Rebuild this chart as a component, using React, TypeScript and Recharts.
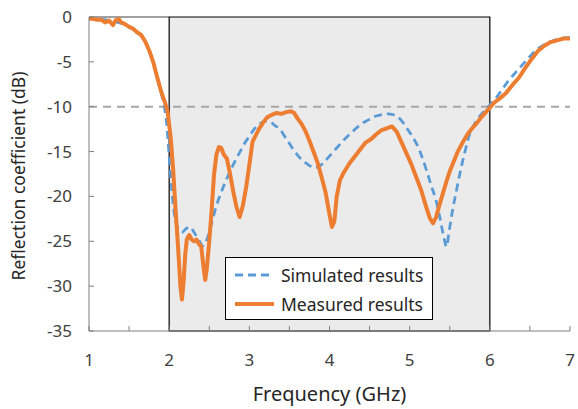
import {
  LineChart,
  Line,
  XAxis,
  YAxis,
  ReferenceLine,
  ReferenceArea,
} from 'recharts';

// measured (orange)
const measFreq = [
  1.0, 1.05, 1.1, 1.15, 1.2, 1.25, 1.3, 1.33, 1.37, 1.4, 1.45, 1.5, 1.55, 1.6, 1.65, 1.7, 1.75, 1.8, 1.85, 1.9,
  1.95, 1.98, 2.02, 2.05, 2.08, 2.11, 2.14, 2.16, 2.18, 2.2, 2.22, 2.25, 2.28, 2.31, 2.34, 2.37, 2.4, 2.43, 2.45,
  2.47, 2.5, 2.53, 2.56, 2.59, 2.62, 2.65, 2.68, 2.72, 2.76, 2.8, 2.84, 2.88, 2.92, 2.96, 3.0, 3.04, 3.08, 3.12,
  3.17, 3.22, 3.28, 3.34, 3.4, 3.46, 3.52, 3.56, 3.6, 3.65, 3.7, 3.75, 3.8, 3.85, 3.9, 3.95, 4.0, 4.03, 4.06,
  4.09, 4.13, 4.18, 4.25, 4.32, 4.38, 4.45, 4.52, 4.58, 4.65, 4.72, 4.78, 4.84, 4.9, 4.96, 5.02, 5.08, 5.14,
  5.2, 5.25, 5.29, 5.33, 5.37, 5.41, 5.46, 5.5, 5.55, 5.6, 5.66, 5.72, 5.78, 5.84, 5.9, 5.95, 6.0, 6.06, 6.12,
  6.2, 6.28, 6.36, 6.44, 6.52, 6.6, 6.68, 6.76, 6.84, 6.92, 7.0,
];
const measured = [
  -0.2, -0.2, -0.3, -0.3, -0.6, -0.4, -0.9, -0.4, -0.2, -0.6, -0.8, -1.1, -1.3, -1.7, -2.0, -2.7, -3.7, -5.0, -6.7,
  -8.3, -9.6, -10.5, -13.5, -17.0, -21.5, -25.5, -30.0, -31.5, -29.5, -26.5, -24.8, -24.3, -24.8, -25.0, -24.8,
  -25.3, -25.6, -28.0, -29.3, -28.0, -25.0, -21.5, -17.5, -15.3, -14.5, -14.6, -15.3, -15.8, -17.5, -19.5, -21.2,
  -22.3, -21.0, -19.0, -16.5, -13.9, -13.2, -12.5, -11.8, -11.2, -10.9, -10.7, -10.8, -10.6, -10.5, -10.7, -11.3,
  -11.9, -12.7, -13.8, -15.0, -16.2, -17.8, -19.5, -22.0, -23.4, -22.8, -20.0, -18.2, -17.3, -16.3, -15.5, -14.8,
  -14.0, -13.6, -13.1, -12.6, -12.4, -12.2, -12.8, -14.0, -15.2, -16.4, -17.8, -19.2, -21.0, -22.4, -23.0, -22.3,
  -21.0, -19.8, -18.3, -17.2, -16.1, -15.0, -14.0, -13.1, -12.4, -11.8, -11.1, -10.6, -10.1, -9.5, -9.1, -8.5,
  -7.6, -6.8, -5.7, -4.7, -3.8, -3.2, -2.8, -2.6, -2.4, -2.4,
];

// simulated (blue dashed)
const simFreq = [
  1.0, 1.1, 1.2, 1.3, 1.4, 1.5, 1.6, 1.7, 1.75, 1.8, 1.85, 1.9, 1.94, 1.97, 2.0, 2.03, 2.07, 2.11, 2.16, 2.21,
  2.26, 2.31, 2.36, 2.42, 2.47, 2.53, 2.58, 2.63, 2.7, 2.76, 2.82, 2.88, 2.94, 3.0, 3.06, 3.13, 3.2, 3.26, 3.32,
  3.38, 3.44, 3.5, 3.56, 3.62, 3.68, 3.74, 3.8, 3.86, 3.92, 3.98, 4.05, 4.12, 4.18, 4.25, 4.32, 4.4, 4.48, 4.56,
  4.64, 4.72, 4.8, 4.86, 4.92, 4.98, 5.04, 5.09, 5.15, 5.21, 5.27, 5.33, 5.38, 5.43, 5.46, 5.49, 5.53, 5.58,
  5.63, 5.69, 5.75, 5.81, 5.88, 5.94, 6.0, 6.08, 6.16, 6.24, 6.32, 6.4, 6.48, 6.56, 6.64, 6.72, 6.8, 6.88, 6.96,
  7.0,
];
const simulated = [
  -0.1, -0.2, -0.3, -0.5, -0.7, -1.1, -1.7, -2.7, -3.7, -5.0, -6.8, -8.5, -10.0, -12.0, -15.5, -19.0, -22.3,
  -23.6, -24.0, -23.6, -23.4, -24.0, -24.7, -25.5, -24.8, -23.0, -21.3, -20.0, -18.4, -17.2, -16.1, -15.1, -14.1,
  -13.3, -12.5, -11.9, -11.6, -11.7, -12.1, -12.5, -13.3, -14.1, -14.9, -15.6, -16.1, -16.5, -16.8, -16.7, -16.3,
  -15.7, -15.0, -14.3, -13.7, -13.1, -12.5, -11.9, -11.5, -11.1, -10.9, -10.8, -10.9, -11.2, -11.8, -12.6, -13.4,
  -14.2, -15.5, -17.1, -18.8, -20.5, -22.5, -24.7, -25.6, -24.0, -21.8, -19.5, -17.3, -15.0, -13.0, -11.9, -11.0,
  -10.4, -9.8, -9.0, -8.0, -7.0, -6.2, -5.4, -4.6, -3.8, -3.3, -2.9, -2.6, -2.4, -2.3, -2.3,
];

const xTicks = [1, 1.5, 2, 2.5, 3, 3.5, 4, 4.5, 5, 5.5, 6, 6.5, 7];
const yTicks = [0, -5, -10, -15, -20, -25, -30, -35];

const measData = measFreq.map((f, i) => ({ f, v: measured[i] }));
const simData = simFreq.map((f, i) => ({ f, v: simulated[i] }));

const FONT = '"Noto Sans", sans-serif';
const BLUE = '#5b9bd5';
const ORANGE = '#ed7d31';

const XTick = ({ x, y, payload }: any) => (
  <g>
    <line x1={x} y1={y} x2={x} y2={y - 5} stroke="#7f7f7f" />
    {Number.isInteger(payload.value) && (
      <text x={x} y={y + 35} textAnchor="middle" fontSize={17} fill="#404040" fontFamily={FONT}>
        {payload.value}
      </text>
    )}
  </g>
);

const YTick = ({ x, y, payload }: any) => (
  <g>
    <line x1={x} y1={y} x2={x + 5} y2={y} stroke="#7f7f7f" />
    <text x={x - 17} y={y} dy="0.35em" textAnchor="end" fontSize={17} fill="#404040" fontFamily={FONT}>
      {payload.value}
    </text>
  </g>
);

const YTitle = () => {
  const cx = 18;
  const cy = 176;
  return (
    <text
      x={cx}
      y={cy}
      transform={`rotate(-90 ${cx} ${cy})`}
      textAnchor="middle"
      dominantBaseline="central"
      fontSize={17.5}
      fill="#262626"
      fontFamily={FONT}
    >
      Reflection coefficient (dB)
    </text>
  );
};

const LegendBox = () => (
  <div
    style={{
      position: 'absolute',
      left: 225,
      top: 257,
      width: 208,
      height: 63,
      background: '#fff',
      border: '1px solid #000',
      fontFamily: FONT,
      fontSize: 17.5,
      color: '#262626',
      boxSizing: 'border-box',
      padding: '2px 0 0 9px',
    }}
  >
    <div style={{ display: 'flex', alignItems: 'center', height: 29 }}>
      <svg width={39} height={6}>
        <line x1={0} y1={3} x2={39} y2={3} stroke={BLUE} strokeWidth={3} strokeDasharray="8 5" />
      </svg>
      <span style={{ marginLeft: 7 }}>Simulated results</span>
    </div>
    <div style={{ display: 'flex', alignItems: 'center', height: 29 }}>
      <svg width={39} height={6}>
        <line x1={0} y1={3} x2={39} y2={3} stroke={ORANGE} strokeWidth={4} />
      </svg>
      <span style={{ marginLeft: 7 }}>Measured results</span>
    </div>
  </div>
);

export default function App() {
  return (
    <div style={{ position: 'absolute', left: 0, top: 0, width: 578, height: 409, background: '#fff' }}>
      <LineChart width={578} height={409} margin={{ top: 17, right: 8, bottom: 0, left: 0 }}>
        <ReferenceArea
          x1={2}
          x2={6}
          y1={-35}
          y2={0}
          fill="#ebebeb"
          fillOpacity={1}
          stroke="#000"
          strokeWidth={1.2}
        />
        <ReferenceLine
          segment={[
            { x: 1, y: 0 },
            { x: 2, y: 0 },
          ]}
          stroke="#404040"
          strokeWidth={1}
        />
        <ReferenceLine y={-10} stroke="#a6a6a6" strokeWidth={2} strokeDasharray="8 6" />
        <XAxis
          type="number"
          dataKey="f"
          domain={[1, 7]}
          ticks={xTicks}
          allowDataOverflow
          height={78}
          tickSize={0}
          tickMargin={0}
          tickLine={false}
          tick={<XTick />}
          axisLine={{ stroke: '#7f7f7f' }}
          label={{
            value: 'Frequency (GHz)',
            position: 'insideBottom',
            offset: 8,
            fontSize: 20,
            fill: '#262626',
            fontFamily: FONT,
          }}
        />
        <YAxis
          type="number"
          domain={[-35, 0]}
          ticks={yTicks}
          allowDataOverflow
          width={89}
          tickSize={0}
          tickMargin={0}
          tickLine={false}
          tick={<YTick />}
          axisLine={{ stroke: '#7f7f7f' }}
          label={<YTitle />}
        />
        <Line
          data={simData}
          dataKey="v"
          type="monotone"
          stroke={BLUE}
          strokeWidth={2.75}
          strokeDasharray="8 5"
          dot={false}
          isAnimationActive={false}
        />
        <Line
          data={measData}
          dataKey="v"
          type="linear"
          stroke={ORANGE}
          strokeWidth={4}
          strokeLinejoin="round"
          dot={false}
          isAnimationActive={false}
        />
      </LineChart>
      <LegendBox />
    </div>
  );
}
